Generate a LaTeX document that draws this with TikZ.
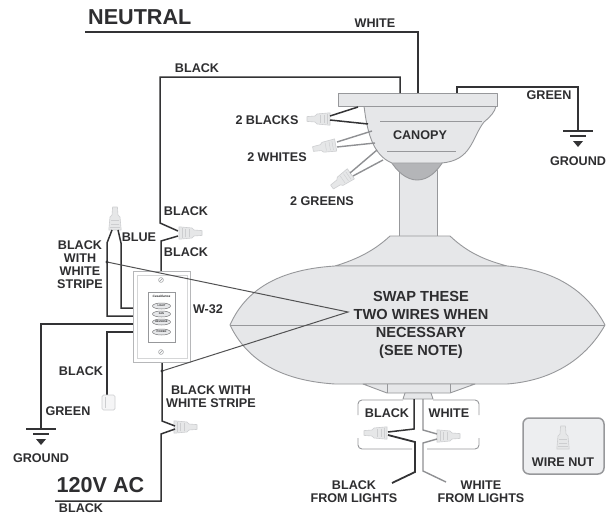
\documentclass[tikz,border=0pt]{standalone}
\usepackage{fontspec}
\setmainfont{Liberation Sans}
\definecolor{ink}{HTML}{2E2E30}
\definecolor{wireblk}{HTML}{333335}
\definecolor{wiregry}{HTML}{8F9093}
\definecolor{edge}{HTML}{97989B}
\definecolor{body}{HTML}{E6E7E9}
\definecolor{dome}{HTML}{B4B5B8}
\definecolor{nutf}{HTML}{E6E7E8}
\definecolor{nutd}{HTML}{CDCED0}
\tikzset{
 lbl/.style={text=ink,font=\fontsize{12.6}{13}\selectfont\bfseries,align=center,inner sep=0pt},
 swaplbl/.style={text=ink,font=\fontsize{14.6}{18}\selectfont\bfseries,align=center,inner sep=0pt},
 biglbl/.style={text=ink,font=\fontsize{21.6}{22}\selectfont\bfseries,inner sep=0pt},
 tiny/.style={text=ink,font=\fontsize{2.6}{3}\selectfont\bfseries,inner sep=0pt},
 blk/.style={draw=wireblk,line width=1.5pt,line join=miter},
 gry/.style={draw=wiregry,line width=1.4pt,line join=miter},
 part/.style={draw=edge,fill=body,line width=.9pt,line join=round},
 leader/.style={draw=wireblk!85,line width=1pt},
 wnut/.pic={
  \path[fill=nutf,draw=nutd,line width=.6pt,line join=round]
    (0,-2.4)--(8,-3)--(10,-5)--(23,-6.2)--(23,6.2)--(10,5)--(8,3)--(0,2.4)--cycle;
  \draw[nutd,line width=.4pt] (13,-4)--(13,4) (17,-4.4)--(17,4.4) (20,-4.7)--(20,4.7);
 },
 gnd/.pic={
  \draw[wireblk,line width=1.4pt] (-15,0)--(15,0);
  \draw[wireblk,line width=1.2pt] (-8,5)--(8,5);
  \fill[wireblk] (-5,10)--(5,10)--(0,16)--cycle;
 }
}
\begin{document}
\begin{tikzpicture}[x=1pt,y=-1pt]
\useasboundingbox (0,0) rectangle (610,514);
\clip (0,0) rectangle (610,514);
\fill[white] (0,0) rectangle (610,514);

% named anchors
\coordinate (neutralL) at (85,32);
\coordinate (plateW) at (418,93);
\coordinate (plateB) at (400,93);
\coordinate (plateG) at (457,93);
\coordinate (gndR) at (578,131);
\coordinate (gndL) at (41,429);
\coordinate (apex) at (348,312);
\coordinate (dotA) at (107,262);
\coordinate (dotB) at (162,371);
\coordinate (acL) at (55,501);

% fan
\path[part] (399,170) rectangle (437,238);
\path[part] (390,236)--(450,236).. controls (468,253) and (485,260) .. (507,266)--(335,266).. controls (358,259) and (375,250) .. (390,236)--cycle;
\path[part] (230,325).. controls (243,296) and (270,270) .. (335,266)--(507,266).. controls (560,270) and (590,296) .. (605,325).. controls (590,352) and (560,380) .. (507,384)--(335,384).. controls (270,380) and (243,352) .. (230,325)--cycle;
\draw[edge,line width=.9pt] (230,325)--(605,325);
\path[part] (363,384)--(387,393)--(450,393)--(475,384)--cycle;
\draw[edge,line width=.9pt] (387,384)--(387,393) (450,384)--(450,393);
\path[part] (405,393)--(403,399)--(433,399)--(431,393)--cycle;

% lights bracket
\draw[edge,line width=.9pt,rounded corners=4pt] (358,415)--(358,400)--(403,400);
\draw[edge,line width=.9pt,rounded corners=4pt] (433,400)--(479,400)--(479,415);
\draw[edge,line width=.9pt,rounded corners=4pt] (358,438)--(358,449)--(412,449);
\draw[edge,line width=.9pt,rounded corners=4pt] (427,449)--(479,449)--(479,438);

% canopy
\path[draw=edge,fill=dome,line width=.9pt] (390,160).. controls (397,172) and (407,180) .. (417,180).. controls (428,180) and (437,172) .. (444,160)--cycle;
\path[part] (364,106).. controls (367,130) and (372,155) .. (392,163)--(441,163).. controls (472,161) and (472,137) .. (484,122).. controls (490,117) and (495,112) .. (496,106)--cycle;
\path[part] (338,93) rectangle (497,106);
\draw[edge,line width=.9pt] (380,121)--(482,121) (387,151)--(456,151);

% top wires
\draw[blk] (neutralL)--(418,32)--(plateW);
\draw[blk] (plateB)--(400,77)--(160,77)--(160,223)--(178,231);
\draw[blk] (plateG)--(457,87)--(578,87)--(gndR);
\pic at (gndR) {gnd};

% canopy nuts
\pic at (307,119) {wnut};
\pic[rotate=10] at (313,149) {wnut};
\pic[rotate=35] at (332,187) {wnut};
\draw[blk] (330,116)--(358,107) (330,120)--(368,124);
\draw[gry] (337,142)--(372,131) (337,147)--(375,143);
\draw[gry] (350,173)--(377,150) (353,176)--(383,160);

% switch wires
\pic at (202,233) [rotate=180] {wnut};
\draw[blk] (178,236)--(161,241)--(161,272);
\pic at (115,207) [rotate=-90] {wnut};
\draw[blk] (112,230)--(107,243)--(107,316)--(134,316);
\draw[blk] (118,230)--(121,243)--(121,308)--(134,308);
\draw[blk] (134,324)--(41,324)--(gndL);
\pic at (gndL) {gnd};
\draw[blk] (134,332)--(107,332)--(107,396);
\draw[draw=nutd,fill=nutf!40,line width=.7pt,rounded corners=1.5pt] (102,395) rectangle (115,410);
\draw[nutd,line width=.5pt] (105,397)--(105,408);

% switch plate
\draw[draw=edge!70,fill=white,line width=1pt] (133,271) rectangle (190,362);
\draw[draw=edge!40,line width=.6pt] (137,275) rectangle (187,358);
\draw[draw=edge,line width=.5pt,fill=white] (148,292) rectangle (175,342);
\node[tiny,font=\fontsize{3.2}{3}\selectfont\itshape\bfseries] (logo) at (161.5,296.5) {Casablanca};
\foreach \yy/\tt in {306/LIGHT,314/FAN,322/REVERSE,332/POWER}{
  \draw[draw=wireblk!70,fill=body,line width=.5pt] (161.5,\yy) ellipse (9 and 3);
  \node[tiny] at (161.5,\yy) {\tt};
}
\draw[edge,line width=.5pt] (161,280) circle (2.4) (161,352) circle (2.4);
\draw[edge,line width=.5pt] (159.5,281.5)--(162.5,278.5) (159.5,353.5)--(162.5,350.5);

% lower switch wire
\pic at (197,427) [rotate=180] {wnut};
\draw[blk] (162,363)--(162,421)--(175,426);
\draw[blk] (175,429)--(161,434)--(161,501)--(acL);

% lights wires
\pic at (364,433) {wnut};
\pic at (460,436) [rotate=180] {wnut};
\draw[blk] (414,399)--(414,429)--(388,432);
\draw[blk,line width=1.8pt] (388,435)--(415,442)--(415,472)--(392,483);
\draw[gry] (423,399)--(423,430)--(437,434);
\draw[gry] (437,439)--(423,443)--(423,471)--(446,482);

% wire nut key
\draw[draw=edge,fill=body!70,line width=1.5pt,rounded corners=6pt] (523,418) rectangle (604,474);
\pic at (563,426) [rotate=-90] {wnut};

% swap leaders
\draw[leader] (dotA)--(apex)--(dotB);
\fill[wireblk] (dotA) circle (1.7) (dotB) circle (1.7);

% labels
\node[biglbl,anchor=base west] (tN) at (88,24) {NEUTRAL};
\node[biglbl] (tAC) at (100.5,485.5) {120V AC};
\node[lbl] (t1) at (375,23) {WHITE};
\node[lbl] (t2) at (197,68) {BLACK};
\node[lbl] (t3) at (549,95) {GREEN};
\node[lbl] (t4) at (578,161) {GROUND};
\node[lbl] (t5) at (267,120) {2 BLACKS};
\node[lbl] (t6) at (277,157) {2 WHITES};
\node[lbl] (t7) at (322,201) {2 GREENS};
\node[lbl] (t8) at (420,135) {CANOPY};
\node[lbl] (t9) at (186,211) {BLACK};
\node[lbl] (t10) at (139,237) {BLUE};
\node[lbl] (t11) at (186,252) {BLACK};
\node[lbl] (t12) at (80,264.5) {BLACK\\WITH\\WHITE\\STRIPE};
\node[lbl] (t13) at (208,309) {W-32};
\node[lbl] (t14) at (81,371) {BLACK};
\node[lbl] (t15) at (68,411) {GREEN};
\node[lbl] (t16) at (41,458) {GROUND};
\node[lbl] (t17) at (211,396.5) {BLACK WITH\\WHITE STRIPE};
\node[lbl] (t18) at (81,508) {BLACK};
\node[lbl] (t19) at (387,413) {BLACK};
\node[lbl] (t20) at (449,413) {WHITE};
\node[lbl] (t21) at (354,491.5) {BLACK\\FROM LIGHTS};
\node[lbl] (t22) at (481,491.5) {WHITE\\FROM LIGHTS};
\node[lbl] (t23) at (563,462) {WIRE NUT};
\node[swaplbl] (t24) at (421,325) {SWAP THESE\\TWO WIRES WHEN\\NECESSARY\\(SEE NOTE)};
\end{tikzpicture}
\end{document}
